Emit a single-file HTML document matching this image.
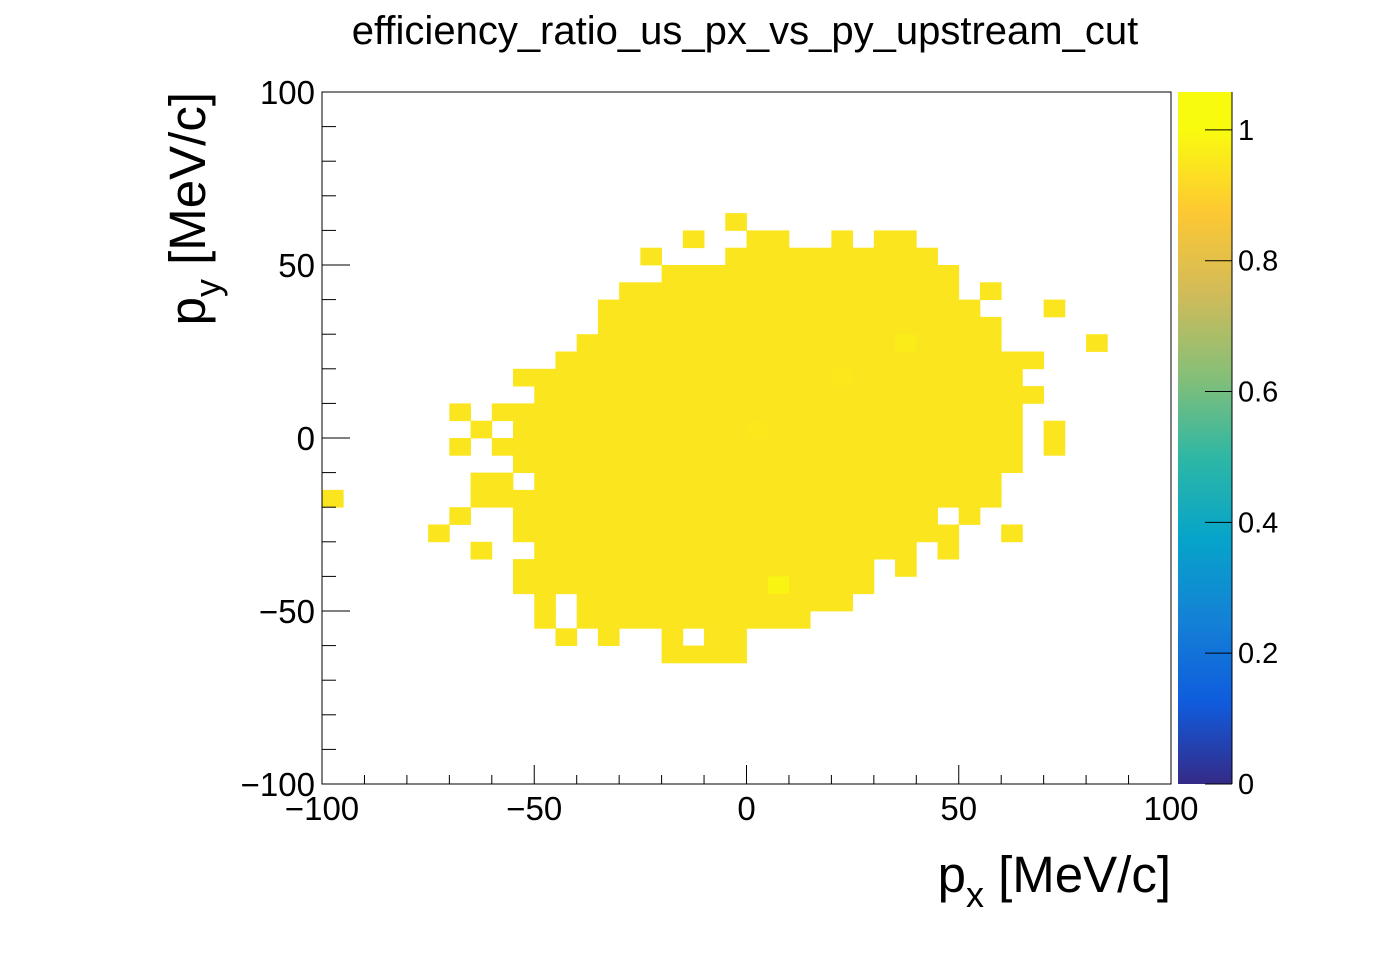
<!DOCTYPE html>
<html><head><meta charset="utf-8">
<style>
html,body{margin:0;padding:0;background:#fff;}
svg text{font-family:"Liberation Sans",Arial,sans-serif;fill:#000;}
</style></head>
<body>
<svg id="chart" width="1396" height="972" viewBox="0 0 1396 972" xmlns="http://www.w3.org/2000/svg">
<defs>
<linearGradient id="bird" x1="0" y1="1" x2="0" y2="0">
<stop offset="0" stop-color="rgb(53,42,135)"/>
<stop offset="0.118" stop-color="rgb(15,92,221)"/>
<stop offset="0.236" stop-color="rgb(20,129,214)"/>
<stop offset="0.354" stop-color="rgb(6,164,202)"/>
<stop offset="0.472" stop-color="rgb(46,183,164)"/>
<stop offset="0.591" stop-color="rgb(135,191,119)"/>
<stop offset="0.709" stop-color="rgb(209,187,89)"/>
<stop offset="0.827" stop-color="rgb(254,200,50)"/>
<stop offset="0.945" stop-color="rgb(249,251,14)"/>
<stop offset="1" stop-color="rgb(249,251,14)"/>
</linearGradient>
</defs>
<text x="745" y="44" font-size="40" text-anchor="middle">efficiency_ratio_us_px_vs_py_upstream_cut</text>
<g id="cells"></g>
<rect x="322" y="92" width="849" height="692" fill="none" stroke="#000" stroke-width="1"/>
<g id="axes"></g>
<rect x="1178" y="92" width="54" height="692" fill="url(#bird)"/>
<g id="pal"></g>
<text x="1171" y="892" font-size="51" text-anchor="end">p<tspan font-size="36" dy="15">x</tspan><tspan dy="-15"> [MeV/c]</tspan></text>
<text transform="translate(205,92) rotate(-90)" font-size="51" text-anchor="end">p<tspan font-size="36" dy="15">y</tspan><tspan dy="-15"> [MeV/c]</tspan></text>
</svg>
<script>
const xEdges = [-100, 100];
const yEdges = [-100, 100];
const nBins = 40;
const rows = [7,8,9,10,11,12,13,14,15,16,17,18,19,20,21,22,23,24,25,26,27,28,29,30,31,32];
const ranges = [
 [[19,19]],
 [[17,17],[20,21],[24,24],[26,27]],
 [[15,15],[19,28]],
 [[16,29]],
 [[14,29],[31,31]],
 [[13,30],[34,34]],
 [[13,31]],
 [[12,31],[36,36]],
 [[11,33]],
 [[9,32]],
 [[10,33]],
 [[6,6],[8,32]],
 [[7,7],[9,32],[34,34]],
 [[6,6],[8,32],[34,34]],
 [[9,32]],
 [[7,8],[10,31]],
 [[0,0],[7,31]],
 [[6,6],[9,28],[30,30]],
 [[5,5],[9,29],[32,32]],
 [[7,7],[10,27],[29,29]],
 [[9,25],[27,27]],
 [[9,25]],
 [[10,10],[12,24]],
 [[10,10],[12,22]],
 [[11,11],[13,13],[16,16],[18,19]],
 [[16,19]]
];
const baseValue = 1.0;
const brightCells = [[27,14],[21,28],[24,16],[20,19]];
const brightVals = [1.02, 1.04, 1.005, 1.005];
const zMin = 0, zMax = 1.058;
const xTicks = [-100,-50,0,50,100];
const xTickLabels = ["\u2212100","\u221250","0","50","100"];
const yTicks = [-100,-50,0,50,100];
const yTickLabels = ["\u2212100","\u221250","0","50","100"];
const palTicks = [0,0.2,0.4,0.6,0.8,1];
const palTickLabels = ["0","0.2","0.4","0.6","0.8","1"];

const X0=322, X1=1171, Y0=784, Y1=92;
const sx = v => X0 + (v - xEdges[0])/(xEdges[1]-xEdges[0])*(X1-X0);
const sy = v => Y0 - (v - yEdges[0])/(yEdges[1]-yEdges[0])*(Y0-Y1);
const binW = (xEdges[1]-xEdges[0])/nBins, binH=(yEdges[1]-yEdges[0])/nBins;
const NS="http://www.w3.org/2000/svg";
const stops=[[0,[53,42,135]],[0.125,[15,92,221]],[0.25,[20,129,214]],[0.375,[6,164,202]],[0.5,[46,183,164]],[0.625,[135,191,119]],[0.75,[209,187,89]],[0.875,[254,200,50]],[1,[249,251,14]]];
function color(z){let t=Math.max(0,Math.min(1,(z-zMin)/(zMax-zMin)));for(let k=1;k<stops.length;k++){if(t<=stops[k][0]){const a=stops[k-1],b=stops[k];const f=(t-a[0])/(b[0]-a[0]);const c=a[1].map((v,i)=>Math.round(v+(b[1][i]-v)*f));return `rgb(${c[0]},${c[1]},${c[2]})`;}}return "rgb(249,251,14)";}
function valAt(col,row){for(let k=0;k<brightCells.length;k++){if(brightCells[k][0]===col&&brightCells[k][1]===row)return brightVals[k];}return baseValue;}
const g=document.getElementById('cells');
rows.forEach((row,ri)=>{ranges[ri].forEach(r=>{for(let c=r[0];c<=r[1];c++){
 const xl=xEdges[0]+c*binW, yt=yEdges[1]-row*binH;
 const x=sx(xl), y=sy(yt), w=sx(xl+binW)-x, h=sy(yt-binH)-y;
 const el=document.createElementNS(NS,'rect');
 
 
 el.setAttribute('x',x.toFixed(2));el.setAttribute('y',y.toFixed(2));
 el.setAttribute('width',(w+0.4).toFixed(2));el.setAttribute('height',(h+0.4).toFixed(2));
 el.setAttribute('fill',color(valAt(c,row)));
 g.appendChild(el);
}});});
const ax=document.getElementById('axes');
function line(x1,y1,x2,y2,parent){const l=document.createElementNS(NS,'line');l.setAttribute('x1',x1);l.setAttribute('y1',y1);l.setAttribute('x2',x2);l.setAttribute('y2',y2);l.setAttribute('stroke','#000');l.setAttribute('stroke-width','1');parent.appendChild(l);return l;}
function txt(x,y,s,anchor,size,parent){const t=document.createElementNS(NS,'text');t.setAttribute('x',x);t.setAttribute('y',y);t.setAttribute('text-anchor',anchor);t.setAttribute('font-size',size);t.textContent=s;parent.appendChild(t);return t;}
for(let v=-100;v<=100;v+=10){const major=(v%50===0);
 const lx=line(sx(v),Y0,sx(v),Y0-(major?19:9),ax);
 
 
 const ly=line(X0,sy(v),X0+(major?28:14),sy(v),ax);
 
 
}
xTicks.forEach((v,i)=>{const t=txt(sx(v),820,xTickLabels[i],'middle',33,ax);
 
 });
yTicks.forEach((v,i)=>{const t=txt(315,sy(v)+12,yTickLabels[i],'end',33,ax);
 
 });
const pal=document.getElementById('pal');
const py=v=>784-(v-zMin)/(zMax-zMin)*692;
palTicks.forEach(v=>{
 const l=line(1232,py(v),1205,py(v),pal);
 
 });
line(1232,92,1232,784,pal);
palTicks.forEach((v,i)=>{const t=txt(1238,py(v)+10,palTickLabels[i],'start',29,pal);
 
 });
</script>
</body></html>
